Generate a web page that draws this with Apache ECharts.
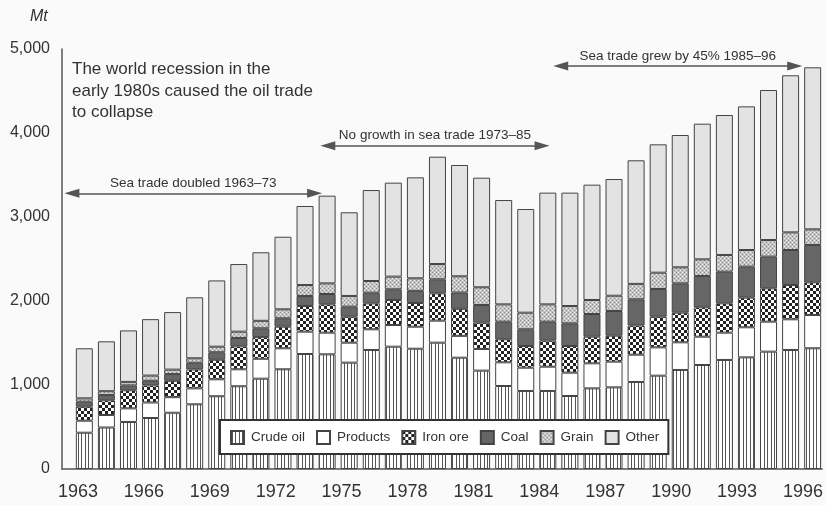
<!DOCTYPE html>
<html style="height: 100%">
    <head>
        <meta charset="utf-8">
    </head>
    <body style="height: 100%; margin: 0; background: #fafafa">
        <div id="container" style="width: 826px; height: 505px"></div>

        <script type="text/javascript" src="https://cdn.jsdelivr.net/npm/echarts@6/dist/echarts.min.js"></script>
        <script type="text/javascript">
// world seaborne trade by commodity, Mt
var years = ['1963', '1964', '1965', '1966', '1967', '1968', '1969', '1970', '1971', '1972', '1973', '1974',
    '1975', '1976', '1977', '1978', '1979', '1980', '1981', '1982', '1983', '1984', '1985', '1986',
    '1987', '1988', '1989', '1990', '1991', '1992', '1993', '1994', '1995', '1996'];
var crudeOil = [432, 494, 560, 607, 670, 770, 866, 985, 1075, 1187, 1369, 1365,
    1266, 1417, 1456, 1432, 1504, 1325, 1171, 988, 929, 929, 869, 960,
    972, 1036, 1111, 1179, 1238, 1298, 1329, 1397, 1417, 1437];
var products = [143, 149, 162, 185, 185, 190, 202, 202, 237, 250, 266, 258,
    238, 246, 258, 262, 262, 260, 258, 282, 277, 289, 278, 298,
    306, 325, 337, 329, 337, 325, 358, 357, 365, 396];
var ironOre = [167, 175, 215, 203, 195, 225, 232, 273, 258, 257, 305, 337,
    309, 309, 298, 282, 325, 322, 313, 274, 258, 310, 317, 317,
    309, 347, 365, 353, 350, 349, 353, 397, 408, 389];
var coal = [59, 62, 58, 55, 80, 80, 90, 100, 105, 100, 120, 123,
    120, 127, 127, 145, 167, 194, 210, 210, 199, 226, 270, 270,
    294, 312, 330, 349, 373, 377, 369, 377, 417, 445];
var grain = [40, 46, 42, 62, 53, 53, 66, 75, 89, 107, 130, 127,
    127, 139, 151, 149, 182, 193, 211, 206, 198, 206, 206, 167,
    182, 184, 194, 191, 198, 199, 198, 198, 210, 186];
var other = [596, 594, 613, 672, 685, 726, 789, 805, 816, 864, 941, 1044,
    996, 1083, 1119, 1202, 1278, 1325, 1305, 1242, 1234, 1330, 1350, 1373,
    1389, 1471, 1528, 1575, 1615, 1666, 1710, 1786, 1870, 1929];
var seriesNames = ['Crude oil', 'Products', 'Iron ore', 'Coal', 'Grain', 'Other'];
var arrows = [
    { text: 'Sea trade doubled 1963\u201373', from: 1962.45, to: 1973.5, y: 3282 },
    { text: 'No growth in sea trade 1973\u201385', from: 1974.1, to: 1983.85, y: 3849 },
    { text: 'Sea trade grew by 45% 1985\u201396', from: 1984.7, to: 1995.35, y: 4798 }
];
var note = 'The world recession in the\nearly 1980s caused the oil trade\nto collapse';

function tile(w, h, draw) {
    var c = document.createElement('canvas');
    c.width = w;
    c.height = h;
    draw(c.getContext('2d'));
    return { image: c, repeat: 'repeat' };
}

var fills = [
    tile(7, 4, function (g) {
        g.fillStyle = '#fff'; g.fillRect(0, 0, 7, 4);
        g.fillStyle = '#555'; g.fillRect(1, 0, 1, 4); g.fillRect(4, 0, 1, 4);
    }),
    '#ffffff',
    tile(6, 6, function (g) {
        g.fillStyle = '#fff'; g.fillRect(0, 0, 6, 6);
        g.fillStyle = '#222'; g.fillRect(0, 0, 3, 3); g.fillRect(3, 3, 3, 3);
    }),
    '#666666',
    tile(4, 4, function (g) {
        g.fillStyle = '#c4c4c4'; g.fillRect(0, 0, 4, 4);
        g.fillStyle = '#8a8a8a'; g.fillRect(0, 0, 1, 1); g.fillRect(2, 2, 1, 1);
        g.fillStyle = '#eee'; g.fillRect(2, 0, 1, 1); g.fillRect(0, 2, 1, 1);
    }),
    '#e3e3e3'
];

var values = [crudeOil, products, ironOre, coal, grain, other];

var dom = document.getElementById('container');
var myChart = echarts.init(dom);
var option;

var series = seriesNames.map(function (name, k) {
    return {
        name: name,
        type: 'bar',
        stack: 'trade',
        barWidth: 17,
        xAxisIndex: 0,
        yAxisIndex: 0,
        itemStyle: {
            color: fills[k],
            borderColor: '#444',
            borderWidth: 1
        },
        emphasis: { disabled: true },
        data: values[k]
    };
});

// carrier for the arrows, drawn on the visible year axis
series.push({
    type: 'line',
    xAxisIndex: 1,
    yAxisIndex: 1,
    data: [[1962, 0]],
    symbol: 'none',
    lineStyle: { opacity: 0 },
    silent: true,
    markLine: {
        silent: true,
        symbol: ['triangle', 'triangle'],
        symbolSize: [9, 15],
        lineStyle: { color: '#555', width: 1.5, type: 'solid' },
        label: {
            show: true,
            position: 'insideMiddleTop',
            distance: 3,
            color: '#333',
            fontSize: 13.5,
            fontFamily: 'Liberation Sans'
        },
        data: arrows.map(function (a) {
            return [
                { coord: [a.from, a.y], name: a.text, label: { formatter: a.text } },
                { coord: [a.to, a.y] }
            ];
        })
    }
});

option = {
    backgroundColor: '#fafafa',
    animation: false,
    textStyle: { fontFamily: 'Liberation Sans' },
    title: [
        {
            text: 'Mt',
            left: 30,
            top: 9,
            padding: 0,
            textStyle: { fontSize: 16, fontStyle: 'italic', fontWeight: 'normal', color: '#333' }
        },
        {
            text: note,
            left: 72,
            top: 59,
            padding: 0,
            textStyle: { fontSize: 17, fontWeight: 'normal', color: '#333', lineHeight: 21.5 }
        }
    ],
    legend: {
        left: 220,
        top: 420,
        orient: 'horizontal',
        padding: [10, 9, 9, 10],
        itemWidth: 13,
        itemHeight: 13,
        itemGap: 11,
        icon: 'rect',
        backgroundColor: '#fff',
        borderColor: '#333',
        borderWidth: 2,
        borderRadius: 0,
        textStyle: { fontSize: 13.5, color: '#333', padding: [0, 0, 0, 2] },
        data: seriesNames
    },
    grid: [
        { left: 73.3, right: 2.3, top: 49, bottom: 36, containLabel: false },
        { left: 62, right: 0, top: 49, bottom: 36, containLabel: false }
    ],
    xAxis: [
        {
            type: 'category',
            gridIndex: 0,
            data: years,
            boundaryGap: true,
            show: false
        },
        {
            type: 'value',
            gridIndex: 1,
            min: 1962,
            max: 1996.6,
            interval: 1,
            splitLine: { show: false },
            axisTick: { show: false },
            axisLine: { lineStyle: { color: '#555', width: 1.5 } },
            axisLabel: {
                margin: 14,
                fontSize: 18,
                color: '#333',
                padding: [0, 12, 0, 0],
                showMaxLabel: false,
                formatter: function (v) {
                    return (v >= 1963 && Math.round(v) === v && (v - 1963) % 3 === 0) ? String(v) : '';
                }
            }
        }
    ],
    yAxis: [
        {
            type: 'value',
            gridIndex: 0,
            min: 0,
            max: 5000,
            show: false
        },
        {
            type: 'value',
            gridIndex: 1,
            min: 0,
            max: 5000,
            interval: 1000,
            splitLine: { show: false },
            axisTick: { show: false },
            axisLine: { show: true, lineStyle: { color: '#555', width: 1.5 } },
            axisLabel: {
                margin: 12,
                fontSize: 16,
                color: '#333',
                formatter: function (v) { return v.toLocaleString('en-US'); }
            }
        }
    ],
    series: series
};

myChart.setOption(option);
        </script>
    </body>
</html>
